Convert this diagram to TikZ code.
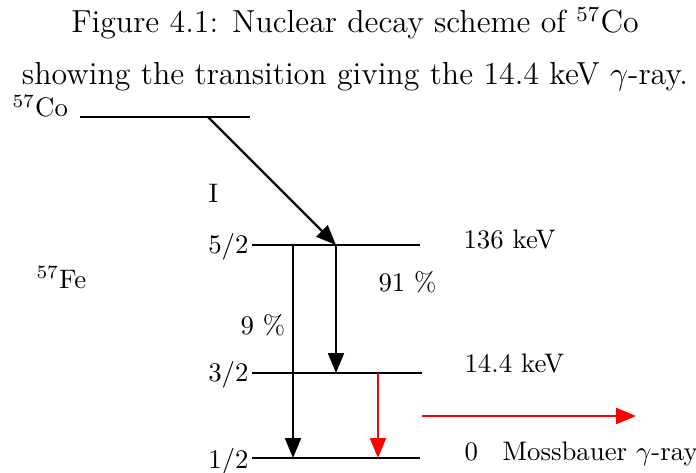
\documentclass[tikz,border=0pt]{standalone}
\usetikzlibrary{arrows.meta,positioning}

\begin{document}
\begin{tikzpicture}[
        x=0.01313cm, y=-0.01313cm,
        level/.style={
            line width=0.9pt,
            draw=black
        },
        decay/.style={
            -{Triangle[length=7.4pt,width=5.9pt]},
            line width=0.9pt,
            draw=black
        },
        gammaRay/.style={
            decay,
            draw=red,
            fill=red
        },
        labelText/.style={
            inner sep=0pt
        },
        captionText/.style={
            inner sep=0pt,
            font=\fontsize{11.9}{14}\selectfont
        }
    ]
        \useasboundingbox (0,0) rectangle (696,472);

        % Caption
        \node[captionText, anchor=base] (title1) at (355,33)
            {Figure 4.1: Nuclear decay scheme of $^{57}$Co};
        \node[captionText, anchor=base] (title2) at (355,85)
            {showing the transition giving the 14.4 keV $\gamma$-ray.};

        % Level end points
        \coordinate (coL) at (80,117);
        \coordinate (coR) at (250,117);
        \coordinate (coSrc) at (208,117);

        \coordinate (fiveL) at (252,245);
        \coordinate (fiveR) at (420,245);
        \coordinate (fiveA) at (293,245);
        \coordinate (fiveB) at (336,245);

        \coordinate (threeL) at (252,373);
        \coordinate (threeR) at (422,373);
        \coordinate (threeB) at (336,373);
        \coordinate (threeC) at (378,373);

        \coordinate (oneL) at (252,458);
        \coordinate (oneR) at (420,458);
        \coordinate (oneA) at (293,458);
        \coordinate (oneC) at (378,458);

        \coordinate (rayStart) at (422,416);
        \coordinate (rayEnd) at (636,416);

        % Levels
        \draw[level] (coL) -- (coR);
        \draw[level] (fiveL) -- (fiveR);
        \draw[level] (threeL) -- (threeR);
        \draw[level] (oneL) -- (oneR);

        % Transitions
        \draw[decay] (coSrc) -- (fiveB);
        \draw[decay] (fiveA) -- (oneA);
        \draw[decay] (fiveB) -- (threeB);
        \draw[gammaRay] (threeC) -- (oneC);
        \draw[gammaRay] (rayStart) -- (rayEnd);

        % Labels
        \node[labelText, anchor=base west] (co) at (12,117) {$^{57}$Co};
        \node[labelText, anchor=base west] (fe) at (36,288) {$^{57}$Fe};
        \node[labelText, anchor=base west] (spin) at (208,202) {I};

        \node[labelText, anchor=base east] (spinFive) at (249,253) {5/2};
        \node[labelText, anchor=base east] (spinThree) at (249,381) {3/2};
        \node[labelText, anchor=base east] (spinOne) at (249,468) {1/2};

        \node[labelText, anchor=base west] (eFive) at (463,248) {136 keV};
        \node[labelText, anchor=base west] (eThree) at (464,372) {14.4 keV};
        \node[labelText, anchor=base west] (eOne) at (464,460) {0};
        \node[labelText, anchor=base west] (moss) at (502,460)
            {Mossbauer $\gamma$-ray};

        \node[labelText, anchor=base west] (pBig) at (378,291) {91 \%};
        \node[labelText, anchor=base west] (pSmall) at (240,334) {9 \%};

    \end{tikzpicture}
\end{document}
